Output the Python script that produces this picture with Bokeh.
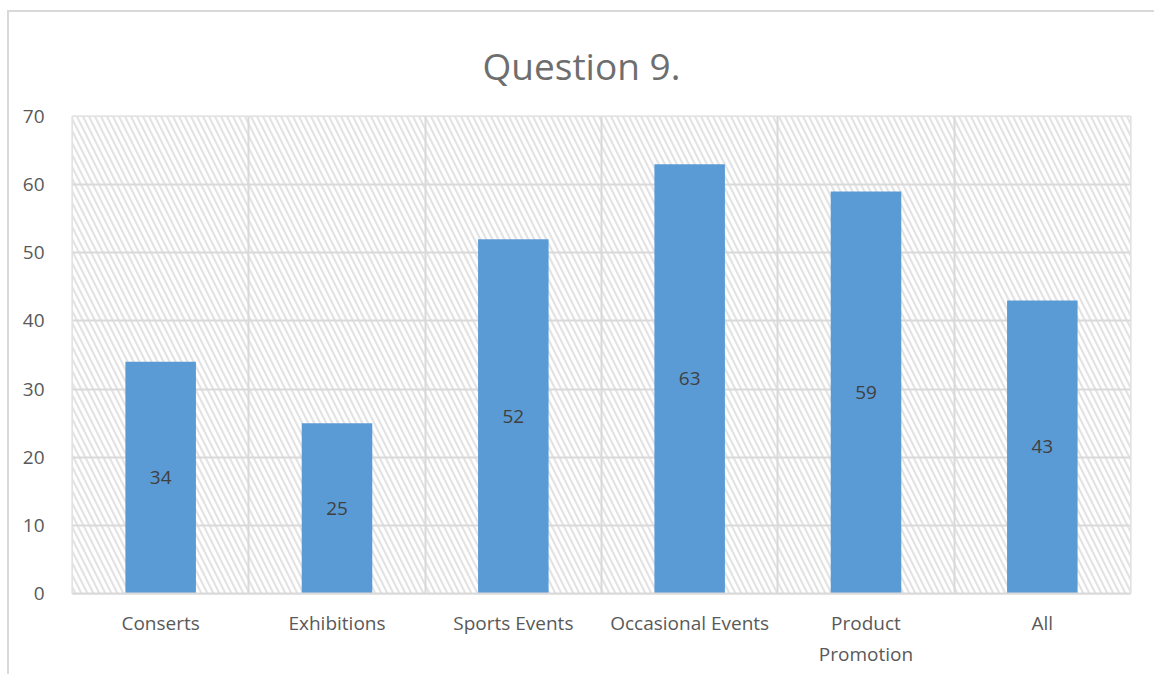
from bokeh.plotting import figure
from bokeh.models import ColumnDataSource, FixedTicker, BoxAnnotation, LabelSet, Range1d
from bokeh.core.properties import value
from bokeh.embed import file_html
from bokeh.resources import INLINE

categories = ["Conserts", "Exhibitions", "Sports Events", "Occasional Events", "Product Promotion", "All"]
values = [34, 25, 52, 63, 59, 43]
tick_labels = ["Conserts", "Exhibitions", "Sports Events", "Occasional Events", "Product\nPromotion", "All"]
y_ticks = [0, 10, 20, 30, 40, 50, 60, 70]

xs = [i + 0.5 for i in range(len(categories))]
src = ColumnDataSource(dict(x=xs, top=values, mid=[v / 2 for v in values],
                            lab=[str(v) for v in values], cat=categories))

FONT = "Open Sans"
GRID = "#d9d9d9"

p = figure(width=1147, height=664, output_backend="svg", toolbar_location=None,
           x_range=Range1d(0, len(categories)), y_range=Range1d(0, 70),
           min_border_left=63, min_border_right=26, min_border_top=104, min_border_bottom=83)
p.margin = (10, 0, 0, 7)
p.styles = {"border-top": "2px solid #d9d9d9", "border-left": "2px solid #d9d9d9"}

p.title.text = "Question 9."
p.title.align = "left"
p.title.text_font = FONT
p.title.text_font_size = "37px"
p.title.text_font_style = "normal"
p.title.text_color = "#6e6e6e"
p.title.offset = 410
p.title.standoff = 51

p.outline_line_color = GRID
p.outline_line_width = 2

# hatched plot area background
p.add_layout(BoxAnnotation(left=0, right=len(categories), bottom=0, top=70,
                           fill_color="white", fill_alpha=1, line_alpha=0,
                           hatch_pattern="left_diagonal_line", hatch_color="#e3e3e3",
                           hatch_scale=12, hatch_weight=2.2, level="image"))

p.vbar(x="x", top="top", width=0.4, bottom=0, source=src,
       fill_color="#5b9bd5", line_color=None)

p.add_layout(LabelSet(x="x", y="mid", text="lab", source=src, text_align="center",
                      text_baseline="middle", text_font=value(FONT), text_font_size="19px",
                      text_color="#404040"))

p.xgrid.ticker = FixedTicker(ticks=list(range(len(categories) + 1)))
p.ygrid.ticker = FixedTicker(ticks=y_ticks)
for g in (p.xgrid, p.ygrid):
    g.grid_line_color = GRID
    g.grid_line_width = 2

p.xaxis.ticker = FixedTicker(ticks=xs)
p.xaxis.major_label_overrides = {x: t for x, t in zip(xs, tick_labels)}
p.yaxis.ticker = FixedTicker(ticks=y_ticks)
for ax in (p.xaxis, p.yaxis):
    ax.major_tick_line_color = None
    ax.minor_tick_line_color = None
    ax.major_label_text_font = FONT
    ax.major_label_text_font_size = "19px"
    ax.major_label_text_color = "#595959"
p.yaxis.axis_line_color = None
p.xaxis.axis_line_color = GRID
p.xaxis.axis_line_width = 2
p.xaxis.major_label_standoff = 10
p.yaxis.major_label_standoff = 22

open("out.html", "w").write(file_html(p, INLINE))
